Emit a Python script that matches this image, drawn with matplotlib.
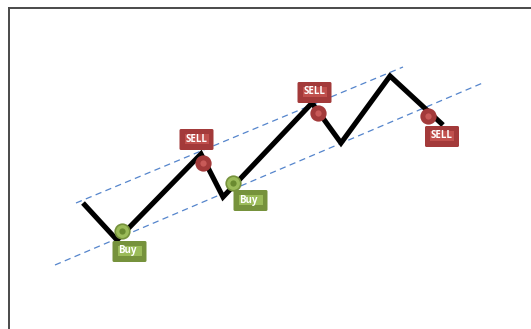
import matplotlib.pyplot as plt
from matplotlib.patches import FancyBboxPatch, Rectangle

# price path (x, y measured down from the top of the picture)
path_x = [83, 117, 201, 223, 312, 341, 390, 443]
path_y = [203, 240, 154, 197, 103, 143, 76, 125]

# channel lines
upper_x = [76, 403]
upper_y = [203, 67]
lower_x = [55, 485]
lower_y = [265, 82]

# trade signals
sig_x = [122, 203, 233, 318, 428]
sig_y = [231, 163, 183, 113, 116]
sig_kind = ["Buy", "SELL", "Buy", "SELL", "SELL"]
# label offset from the signal point
lab_dx = [7.5, -6.5, 17.5, -3.5, 14]
lab_dy = [20.5, -23.5, 17.5, -20.5, 20.5]

colors = {
    "Buy": ("#76923c", "#9bbb59", "#6a8a30"),
    "SELL": ("#a33a3a", "#c0504d", "#b84848"),
}

W, H = 531, 329
fig = plt.figure(figsize=(W / 100, H / 100), dpi=100)
ax = fig.add_axes([9 / W, 0, 1 - 9 / W, 1 - 8 / H])
ax.set_xlim(9, W)
ax.set_ylim(H, 8)
ax.set_xticks([])
ax.set_yticks([])
for s in ["right", "bottom"]:
    ax.spines[s].set_visible(False)
for s in ["left", "top"]:
    ax.spines[s].set_color("#4a4a4a")
    ax.spines[s].set_linewidth(1.4)

ax.plot(upper_x, upper_y, color="#5585cc", lw=0.9, dashes=(5, 3.5))
ax.plot(lower_x, lower_y, color="#5585cc", lw=0.9, dashes=(5, 3.5))

ax.plot(path_x, path_y, color="black", lw=3.7, solid_joinstyle="miter",
        solid_capstyle="butt", zorder=3)

for x, y, k, dx, dy in zip(sig_x, sig_y, sig_kind, lab_dx, lab_dy):
    dark, light, dot = colors[k]
    ax.plot(x, y, "o", ms=10.5, mfc=light if k == "Buy" else dark,
            mec=dark, mew=1.2, zorder=4)
    ax.plot(x, y, "o", ms=4.5, mfc=dot if k == "Buy" else "#c85a58",
            mec="none", zorder=5)

    cx, cy = x + dx, y + dy
    bw, bh = 34, 21
    ax.add_patch(FancyBboxPatch((cx - bw / 2 + 1.5, cy - bh / 2 + 1.5), bw - 3, bh - 3,
                                boxstyle="round,pad=1.5", fc=dark, ec="none", zorder=6))
    ax.add_patch(Rectangle((cx - bw / 2 + 5, cy - bh / 2 + 5), bw - 10, bh - 11,
                           fc=light, ec="none", zorder=7))
    ax.text(cx - bw / 2 + 6, cy - 0.5, k, color="white", fontsize=7,
            fontweight="bold", family="Open Sans", ha="left", va="center", zorder=8)

fig.savefig("out.png", dpi=100)
